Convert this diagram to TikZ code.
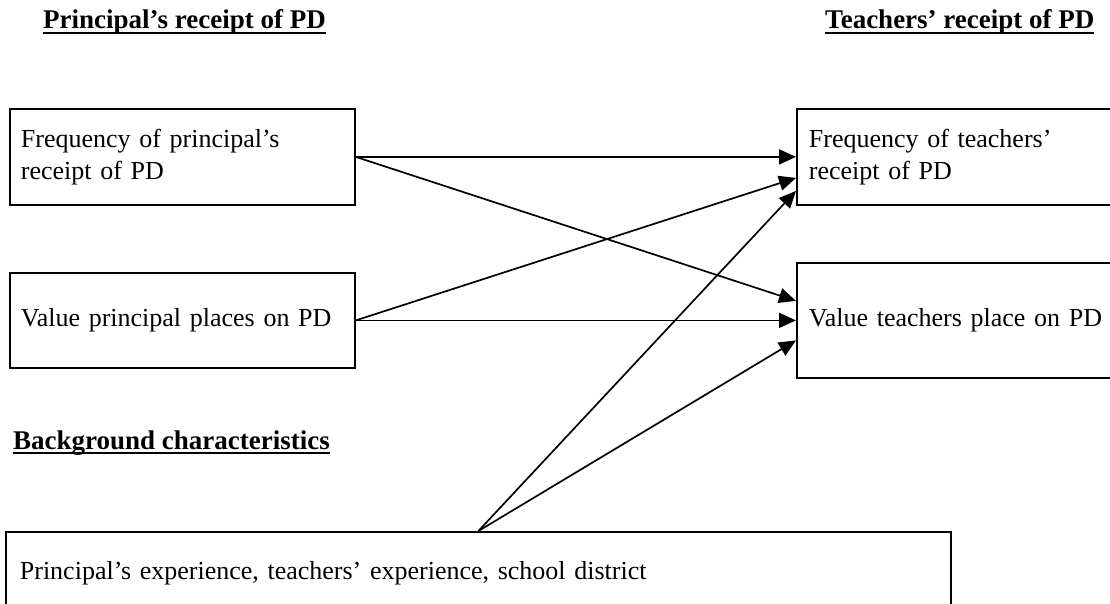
\documentclass[tikz,border=0pt]{standalone}
\usepackage{fontspec}
\setmainfont{Liberation Serif}
\usepackage{tikz}
\usetikzlibrary{positioning,arrows.meta}

% underlined heading with a firm rule
\newcommand{\headul}[1]{\setbox0\hbox{#1}\rlap{\rule[-4.6pt]{\wd0}{1.8pt}}\box0}

\begin{document}
\begin{tikzpicture}[x=1pt, y=-1pt,
    font=\fontsize{26}{32}\selectfont,
    box/.style={draw, line width=1.8pt, anchor=north west, align=left},
    link/.style={line width=1.7pt, -{Triangle[length=17pt, width=15pt]}},
    heading/.style={anchor=base west, inner sep=0pt, font=\fontsize{27}{32}\selectfont\bfseries}]
    \useasboundingbox (0,0) rectangle (1110,604);

    % Column headings
    \node[heading] (prHead) at (43,29) {\headul{Principal’s receipt of PD}};
    \node[heading] (tcHead) at (825,29) {\headul{Teachers’ receipt of PD}};
    \node[heading] (bgHead) at (13,449) {\headul{Background characteristics}};

    % Principal boxes (left)
    \node[box, minimum width=345pt, minimum height=96pt, text width=323pt, inner xsep=11pt]
        (prFreq) at (9,108) {Frequency of principal’s\\receipt of PD};
    \node[box, minimum width=345pt, minimum height=95pt, text width=323pt, inner xsep=11pt]
        (prValue) at (9,272) {Value principal places on PD};

    % Teacher boxes (right, running past the edge)
    \node[box, minimum width=330pt, minimum height=96pt, text width=306pt, inner xsep=12pt]
        (tcFreq) at (796,108) {Frequency of teachers’\\receipt of PD};
    \node[box, minimum width=330pt, minimum height=115pt, text width=306pt, inner xsep=12pt]
        (tcValue) at (796,262) {Value teachers place on PD};

    % Background box
    \node[box, minimum width=945pt, minimum height=82pt, text width=917pt, inner xsep=14pt]
        (bgBox) at (5,531) {Principal’s experience, teachers’ experience, school district};

    % Paths
    \draw[link] (prFreq.east) -- (tcFreq.west);
    \draw[link] (prFreq.east) -- ([yshift=19.5pt]tcValue.west);
    \draw[link] (prValue.east) -- ([yshift=-21pt]tcFreq.west);
    \draw[link] (prValue.east) -- (tcValue.west);
    \draw[link] (bgBox.north) -- ([yshift=-34pt]tcFreq.west);
    \draw[link] (bgBox.north) -- ([yshift=-20pt]tcValue.west);
\end{tikzpicture}
\end{document}
